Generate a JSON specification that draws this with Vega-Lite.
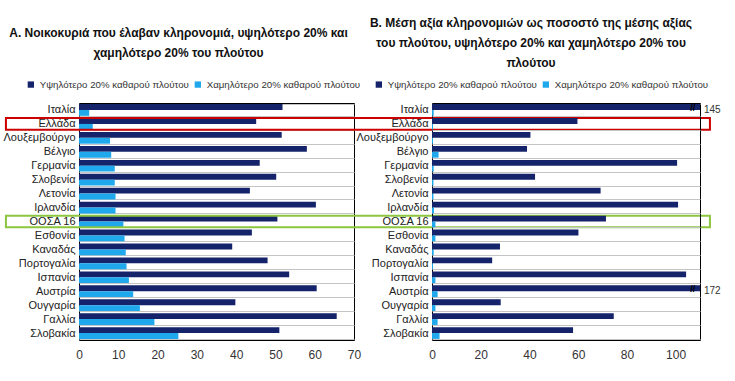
{
  "$schema": "https://vega.github.io/schema/vega-lite/v6.json",
  "padding": {"left": 2, "top": 16, "right": 5, "bottom": 5},
  "bounds": "flush",
  "spacing": 78,
  "datasets": {
    "d": [
      {"country": "Ιταλία", "series": "Υψηλότερο 20% καθαρού πλούτου", "a": 51.8, "b": 145},
      {"country": "Ιταλία", "series": "Χαμηλότερο 20% καθαρού πλούτου", "a": 2.6, "b": 0.7},
      {"country": "Ελλάδα", "series": "Υψηλότερο 20% καθαρού πλούτου", "a": 45.1, "b": 59.7},
      {"country": "Ελλάδα", "series": "Χαμηλότερο 20% καθαρού πλούτου", "a": 3.5, "b": 0.4},
      {"country": "Λουξεμβούργο", "series": "Υψηλότερο 20% καθαρού πλούτου", "a": 51.6, "b": 40.4},
      {"country": "Λουξεμβούργο", "series": "Χαμηλότερο 20% καθαρού πλούτου", "a": 7.9, "b": 0.4},
      {"country": "Βέλγιο", "series": "Υψηλότερο 20% καθαρού πλούτου", "a": 58.0, "b": 39.0},
      {"country": "Βέλγιο", "series": "Χαμηλότερο 20% καθαρού πλούτου", "a": 8.2, "b": 2.7},
      {"country": "Γερμανία", "series": "Υψηλότερο 20% καθαρού πλούτου", "a": 46.0, "b": 100.6},
      {"country": "Γερμανία", "series": "Χαμηλότερο 20% καθαρού πλούτου", "a": 9.1, "b": 0.7},
      {"country": "Σλοβενία", "series": "Υψηλότερο 20% καθαρού πλούτου", "a": 50.2, "b": 42.3},
      {"country": "Σλοβενία", "series": "Χαμηλότερο 20% καθαρού πλούτου", "a": 9.1, "b": 0.6},
      {"country": "Λετονία", "series": "Υψηλότερο 20% καθαρού πλούτου", "a": 43.5, "b": 69.2},
      {"country": "Λετονία", "series": "Χαμηλότερο 20% καθαρού πλούτου", "a": 9.3, "b": 0.6},
      {"country": "Ιρλανδία", "series": "Υψηλότερο 20% καθαρού πλούτου", "a": 60.3, "b": 101.0},
      {"country": "Ιρλανδία", "series": "Χαμηλότερο 20% καθαρού πλούτου", "a": 9.3, "b": 0.8},
      {"country": "ΟΟΣΑ 16", "series": "Υψηλότερο 20% καθαρού πλούτου", "a": 50.5, "b": 71.4},
      {"country": "ΟΟΣΑ 16", "series": "Χαμηλότερο 20% καθαρού πλούτου", "a": 11.3, "b": 1.4},
      {"country": "Εσθονία", "series": "Υψηλότερο 20% καθαρού πλούτου", "a": 44.0, "b": 60.1},
      {"country": "Εσθονία", "series": "Χαμηλότερο 20% καθαρού πλούτου", "a": 11.6, "b": 1.4},
      {"country": "Καναδάς", "series": "Υψηλότερο 20% καθαρού πλούτου", "a": 39.0, "b": 27.9},
      {"country": "Καναδάς", "series": "Χαμηλότερο 20% καθαρού πλούτου", "a": 11.9, "b": 0.7},
      {"country": "Πορτογαλία", "series": "Υψηλότερο 20% καθαρού πλούτου", "a": 48.0, "b": 24.7},
      {"country": "Πορτογαλία", "series": "Χαμηλότερο 20% καθαρού πλούτου", "a": 12.1, "b": 0.4},
      {"country": "Ισπανία", "series": "Υψηλότερο 20% καθαρού πλούτου", "a": 53.5, "b": 104.3},
      {"country": "Ισπανία", "series": "Χαμηλότερο 20% καθαρού πλούτου", "a": 12.7, "b": 1.4},
      {"country": "Αυστρία", "series": "Υψηλότερο 20% καθαρού πλούτου", "a": 60.5, "b": 172},
      {"country": "Αυστρία", "series": "Χαμηλότερο 20% καθαρού πλούτου", "a": 13.8, "b": 2.3},
      {"country": "Ουγγαρία", "series": "Υψηλότερο 20% καθαρού πλούτου", "a": 39.8, "b": 28.2},
      {"country": "Ουγγαρία", "series": "Χαμηλότερο 20% καθαρού πλούτου", "a": 15.5, "b": 1.4},
      {"country": "Γαλλία", "series": "Υψηλότερο 20% καθαρού πλούτου", "a": 65.6, "b": 74.6},
      {"country": "Γαλλία", "series": "Χαμηλότερο 20% καθαρού πλούτου", "a": 19.2, "b": 2.3},
      {"country": "Σλοβακία", "series": "Υψηλότερο 20% καθαρού πλούτου", "a": 51.0, "b": 57.9},
      {"country": "Σλοβακία", "series": "Χαμηλότερο 20% καθαρού πλούτου", "a": 25.3, "b": 3.1}
    ]
  },
  "config": {
    "font": "Liberation Sans",
    "view": {"stroke": "#000000", "strokeWidth": 1},
    "axis": {
      "labelFont": "Liberation Sans",
      "labelFontSize": 11,
      "labelColor": "#222222",
      "domain": false,
      "ticks": false,
      "title": null,
      "labelOverlap": false
    },
    "axisY": {
      "tickBand": "extent",
      "grid": true,
      "gridColor": "#c4c4c4",
      "labelPadding": 4,
      "minExtent": 70,
      "maxExtent": 70
    },
    "axisX": {"grid": false, "labelPadding": 9, "labelFontSize": 12, "labelColor": "#333333", "labelOverlap": false, "labelFlush": false, "labelBound": false},
    "legend": {
      "orient": "none",
      "direction": "horizontal",
      "title": null,
      "symbolType": "square",
      "symbolSize": 40,
      "symbolStrokeWidth": 0,
      "labelFont": "Liberation Sans",
      "labelFontSize": 9.7,
      "labelLimit": 300,
      "labelColor": "#333333",
      "columnPadding": 4,
      "symbolOffset": 0
    },
    "title": {
      "font": "Liberation Sans",
      "fontSize": 12,
      "fontWeight": "bold",
      "lineHeight": 20,
      "color": "#111111",
      "anchor": "middle",
      "frame": "group"
    }
  },
  "resolve": {"scale": {"color": "independent"}, "legend": {"color": "independent"}},
  "hconcat": [
    {
      "width": 275,
      "height": 237,
      "title": {
        "text": ["Α. Νοικοκυριά που έλαβαν κληρονομιά, υψηλότερο 20% και", "χαμηλότερο 20% του πλούτου"],
        "dx": -38,
        "offset": 20
      },
      "layer": [
        {
          "data": {"name": "d"},
          "mark": {"type": "bar"},
          "encoding": {
            "y": {"field": "country", "type": "nominal", "sort": null, "scale": {"paddingInner": 0.16, "paddingOuter": 0.08}},
            "yOffset": {"field": "series", "type": "nominal", "sort": null},
            "x": {"field": "a", "type": "quantitative", "scale": {"domain": [0, 70], "nice": false}, "axis": {"values": [0, 10, 20, 30, 40, 50, 60, 70], "labelOverlap": false, "format": "d"}},
            "color": {
              "field": "series", "type": "nominal",
              "scale": {"domain": ["Υψηλότερο 20% καθαρού πλούτου", "Χαμηλότερο 20% καθαρού πλούτου"], "range": ["#14236a", "#1fa9ec"]},
              "legend": {"legendX": -53, "legendY": -23.5}
            }
          }
        },
        {
          "data": {"values": [{"country": "Ελλάδα"}]},
          "mark": {"type": "rect", "fill": null, "stroke": "#cc0000", "strokeWidth": 2, "clip": false},
          "encoding": {
            "y": {"field": "country", "type": "nominal", "sort": null},
            "x": {"datum": -18.6, "axis": {"values": [0, 10, 20, 30, 40, 50, 60, 70], "labelOverlap": false, "format": "d"}},
            "x2": {"datum": 160.6}
          }
        },
        {
          "data": {"values": [{"country": "ΟΟΣΑ 16"}]},
          "mark": {"type": "rect", "fill": null, "stroke": "#8cc63e", "strokeWidth": 2, "clip": false},
          "encoding": {
            "y": {"field": "country", "type": "nominal", "sort": null},
            "x": {"datum": -18.6, "axis": {"values": [0, 10, 20, 30, 40, 50, 60, 70], "labelOverlap": false, "format": "d"}},
            "x2": {"datum": 160.6}
          }
        }
      ]
    },
    {
      "width": 268,
      "height": 237,
      "title": {
        "text": ["Β. Μέση αξία κληρονομιών ως ποσοστό της μέσης αξίας", "του πλούτου, υψηλότερο 20% και χαμηλότερο 20% του", "πλούτου"],
        "dx": -35,
        "offset": 10
      },
      "layer": [
        {
          "data": {"name": "d"},
          "mark": {"type": "bar"},
          "encoding": {
            "y": {"field": "country", "type": "nominal", "sort": null, "scale": {"paddingInner": 0.16, "paddingOuter": 0.08}},
            "yOffset": {"field": "series", "type": "nominal", "sort": null},
            "x": {"field": "b", "type": "quantitative", "scale": {"domain": [0, 110], "nice": false, "clamp": true}, "axis": {"values": [0, 20, 40, 60, 80, 100], "labelOverlap": false, "format": "d"}},
            "color": {
              "field": "series", "type": "nominal",
              "scale": {"domain": ["Υψηλότερο 20% καθαρού πλούτου", "Χαμηλότερο 20% καθαρού πλούτου"], "range": ["#14236a", "#1fa9ec"]},
              "legend": {"legendX": -58, "legendY": -23.5}
            }
          }
        },
        {
          "data": {"name": "d"},
          "transform": [{"filter": "datum.b > 110"}],
          "mark": {"type": "text", "align": "left", "baseline": "middle", "dx": 4, "fontSize": 10, "color": "#333333", "font": "Liberation Sans"},
          "encoding": {
            "y": {"field": "country", "type": "nominal", "sort": null},
            "x": {"field": "b", "type": "quantitative", "axis": {"values": [0, 20, 40, 60, 80, 100], "labelOverlap": false, "format": "d"}},
            "text": {"field": "b", "type": "quantitative"}
          }
        },
        {
          "data": {"name": "d"},
          "transform": [{"filter": "datum.b > 110"}],
          "mark": {"type": "text", "align": "center", "baseline": "middle", "fontSize": 9, "fontWeight": "bold", "color": "#000000", "text": "//", "dy": -2},
          "encoding": {
            "y": {"field": "country", "type": "nominal", "sort": null},
            "x": {"datum": 107, "axis": {"values": [0, 20, 40, 60, 80, 100], "labelOverlap": false, "format": "d"}}
          }
        }
      ]
    }
  ]
}
